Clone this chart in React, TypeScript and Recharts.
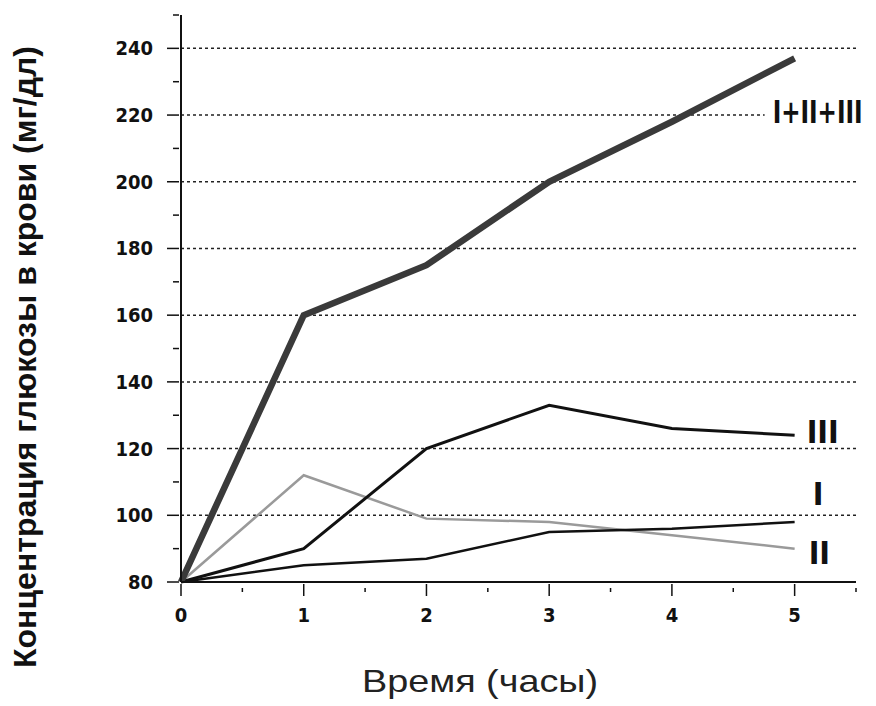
import React from "react";
import { LineChart, Line, XAxis, YAxis, CartesianGrid } from "recharts";

const hours = [0, 1, 2, 3, 4, 5];
const seriesI = [80, 85, 87, 95, 96, 98];
const seriesII = [80, 112, 99, 98, 94, 90];
const seriesIII = [80, 90, 120, 133, 126, 124];
const seriesSum = [80, 160, 175, 200, 218, 237];

const xTicks = [0, 0.5, 1, 1.5, 2, 2.5, 3, 3.5, 4, 4.5, 5, 5.5];
const yTicks = [80, 90, 100, 110, 120, 130, 140, 150, 160, 170, 180, 190, 200, 210, 220, 230, 240, 250];
const gridValues = [100, 120, 140, 160, 180, 200, 220, 240];

const data = hours.map((h, i) => ({
  t: h,
  i: seriesI[i],
  ii: seriesII[i],
  iii: seriesIII[i],
  sum: seriesSum[i],
}));

const tickFont = "'DejaVu Sans Condensed', 'Liberation Sans', sans-serif";
const titleFont = "'Liberation Sans', Arial, sans-serif";

function YTick(props: any) {
  const { x, y, payload } = props;
  const v = payload.value;
  const major = v % 20 === 0 && v <= 240;
  return (
    <g>
      <line x1={x - (major ? 12 : 6)} x2={x} y1={y} y2={y} stroke="#111" strokeWidth={1.5} />
      {major && (
        <text x={x - 26} y={y} dy={7} textAnchor="end" fontFamily={tickFont} fontWeight="bold" fontSize={20} fill="#111">
          {v}
        </text>
      )}
    </g>
  );
}

function XTick(props: any) {
  const { x, y, payload } = props;
  const v = payload.value;
  const major = Number.isInteger(v) && v <= 5;
  return (
    <g>
      <line x1={x} x2={x} y1={major ? y : y + 4} y2={y + (major ? 12 : 8)} stroke="#111" strokeWidth={1.5} />
      {major && (
        <text x={x} y={y + 38} textAnchor="middle" fontFamily={tickFont} fontWeight="bold" fontSize={20} fill="#111">
          {v}
        </text>
      )}
    </g>
  );
}

function EndLabel(props: any) {
  const { x, y, index, text, dx, dy, bgFrom, sx = 1 } = props;
  if (index !== hours.length - 1) return null;
  return (
    <g>
      <rect x={x + bgFrom} y={y + dy - 22} width={876 - (x + bgFrom)} height={34} fill="#fff" />
      <g transform={`translate(${x + dx},${y + dy}) scale(${sx},1)`}>
        <text x={0} y={0} fontFamily={tickFont} fontWeight="bold" fontSize={32} fill="#111" dominantBaseline="middle">
          {text}
        </text>
      </g>
    </g>
  );
}

function YTitle() {
  return (
    <text transform="translate(36,357) rotate(-90)" textAnchor="middle" fontFamily={titleFont} fontWeight="bold" fontSize={32} fill="#111">
      Концентрация глюкозы в крови (мг/дл)
    </text>
  );
}

function XTitle(props: any) {
  const { viewBox } = props;
  return (
    <text x={480} y={viewBox.y + 110} textAnchor="middle" fontFamily={titleFont} fontSize={32} fill="#222"
      textLength={236} lengthAdjust="spacingAndGlyphs">
      Время (часы)
    </text>
  );
}

export default function App() {
  return (
    <div style={{ position: "absolute", left: 0, top: 0, width: 876, height: 706, background: "#fff" }}>
      <LineChart width={876} height={706} data={data} margin={{ top: 15, right: 20, bottom: 84, left: 0 }}>
        <CartesianGrid horizontal={true} vertical={false} horizontalValues={gridValues} stroke="#222" strokeWidth={1.5} strokeDasharray="3 3" />
        <XAxis
          dataKey="t"
          type="number"
          domain={[0, 5.5]}
          ticks={xTicks}
          interval={0}
          tickSize={0}
          tickLine={false}
          tick={<XTick />}
          axisLine={{ stroke: "#111", strokeWidth: 2 }}
          height={40}
          label={<XTitle />}
        />
        <YAxis
          type="number"
          domain={[80, 250]}
          ticks={yTicks}
          interval={0}
          tickSize={0}
          tickLine={false}
          tick={<YTick />}
          axisLine={{ stroke: "#111", strokeWidth: 2 }}
          width={181}
          label={<YTitle />}
        />
        <Line dataKey="ii" stroke="#9a9a9a" strokeWidth={2.5} dot={false} isAnimationActive={false}
          label={<EndLabel text="II" dx={14} dy={6} bgFrom={8} />} />
        <Line dataKey="i" stroke="#111" strokeWidth={2.5} dot={false} isAnimationActive={false}
          label={<EndLabel text="I" dx={18} dy={-26} bgFrom={5} />} />
        <Line dataKey="iii" stroke="#111" strokeWidth={3} dot={false} isAnimationActive={false}
          label={<EndLabel text="III" dx={12} dy={-1} bgFrom={13} />} />
        <Line dataKey="sum" stroke="#3a3a3a" strokeWidth={6.5} dot={false} isAnimationActive={false}
          label={<EndLabel text="I+II+III" dx={-22} dy={56} bgFrom={-30} sx={0.8} />} />
      </LineChart>
    </div>
  );
}
